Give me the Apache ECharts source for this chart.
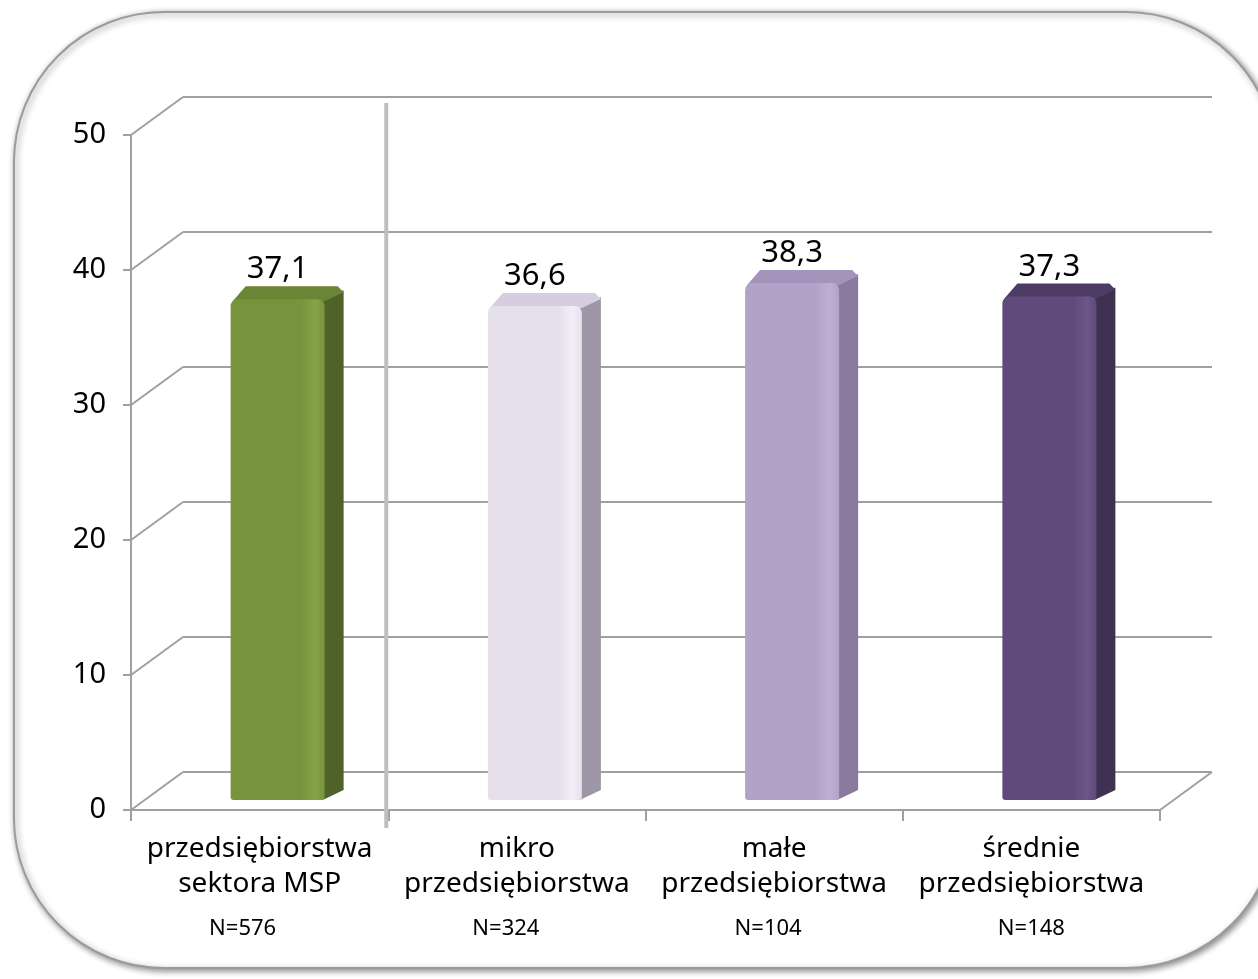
<!DOCTYPE html>
<html>
<head>
<meta charset="utf-8">
<script src="https://cdn.jsdelivr.net/npm/echarts@6/dist/echarts.min.js"></script>
<style>html,body{margin:0;padding:0;background:#fff;}#c{width:1258px;height:979px;}</style>
</head>
<body>
<div id="c"></div>
<script>
const categories = ['przedsiębiorstwa\nsektora MSP', 'mikro\nprzedsiębiorstwa', 'małe\nprzedsiębiorstwa', 'średnie\nprzedsiębiorstwa'];
const sampleSizes = ['576', '324', '104', '148'];
const barValues = [37.1, 36.6, 38.3, 37.3];
const valueLabels = ['37,1', '36,6', '38,3', '37,3'];
const yTicks = [0, 10, 20, 30, 40, 50];

const barColors = [
  {front: '#77933C', light: '#86A447', side: '#4F6228', top: '#6A8535'},
  {front: '#E6E0EC', light: '#F2EEF6', side: '#9C96A6', top: '#D6CEE0'},
  {front: '#B3A2C7', light: '#BFB0D2', side: '#8A7A9E', top: '#A493BA'},
  {front: '#604A7B', light: '#6C5688', side: '#3F3151', top: '#4E3C66'}
];
const nShift = [34, 22, 12, 0]; // right padding of the N= labels (style)
const FONT = '"Noto Sans", "DejaVu Sans", sans-serif';
const DX = 52, DY = -38;       // back wall offset
const BDX = 19, BDY = -13;     // bar depth

const nRich = {};
nShift.forEach((p, i) => {
  nRich['n' + i] = {fontFamily: FONT, fontSize: 22, lineHeight: 54, color: '#000', padding: [0, p, 0, 0]};
});

const chart = echarts.init(document.getElementById('c'), null, {renderer: 'canvas'});

const option = {
  backgroundColor: '#ffffff',
  animation: false,
  graphic: [{
    type: 'rect', z: -10, silent: true,
    shape: {x: 14, y: 12, width: 1262, height: 956, r: 150},
    style: {fill: '#ffffff', stroke: '#9b9b9b', lineWidth: 2,
      shadowBlur: 6, shadowColor: 'rgba(0,0,0,0.45)', shadowOffsetX: 2, shadowOffsetY: 2}
  }],
  grid: [
    {left: 131, right: 98, top: 135, bottom: 169},
    {left: 183, right: 46, top: 97, bottom: 207}
  ],
  xAxis: [{
    gridIndex: 0, type: 'category', data: categories,
    axisLine: {show: true, lineStyle: {color: '#a0a0a0', width: 2}},
    axisTick: {show: true, length: 11, lineStyle: {color: '#a0a0a0', width: 2}},
    axisLabel: {
      margin: 22, interval: 0, color: '#000',
      formatter: function (v, i) {
        return v.split('\n').map(l => '{a|' + l + '}').join('\n') + '\n{n' + i + '|N=' + sampleSizes[i] + '}';
      },
      rich: Object.assign({
        a: {fontFamily: FONT, fontSize: 28, lineHeight: 35, color: '#000'}
      }, nRich)
    }
  }, {
    gridIndex: 1, type: 'category', data: categories, show: false
  }],
  yAxis: [{
    gridIndex: 0, type: 'value', min: 0, max: 50, interval: 10,
    axisLine: {show: true, lineStyle: {color: '#a0a0a0', width: 2}},
    axisTick: {show: true, length: 8, lineStyle: {color: '#a0a0a0', width: 2}},
    splitLine: {show: false},
    axisLabel: {margin: 25, fontFamily: FONT, fontSize: 29, color: '#000'}
  }, {
    gridIndex: 1, type: 'value', min: 0, max: 50, interval: 10,
    axisLine: {show: false}, axisTick: {show: false}, axisLabel: {show: false},
    splitLine: {show: true, lineStyle: {color: '#a0a0a0', width: 2}}
  }],
  series: [{
    type: 'custom', xAxisIndex: 0, yAxisIndex: 0, silent: true, z: 1,
    data: yTicks.map(v => [0, v]),
    renderItem: function (params, api) {
      const cs = params.coordSys;
      const y = api.coord([0, api.value(1)])[1];
      const x = cs.x;
      const children = [{
        type: 'line', shape: {x1: x, y1: y, x2: x + DX, y2: y + DY},
        style: {stroke: '#a0a0a0', lineWidth: 2}
      }];
      if (api.value(1) === 0) {
        children.push({
          type: 'line', shape: {x1: x + cs.width, y1: y, x2: x + cs.width + DX, y2: y + DY},
          style: {stroke: '#a0a0a0', lineWidth: 2}
        });
        // separator between total and size classes
        const half = api.size([1, 0])[0] / 2;
        const sx = api.coord([0, 0])[0] + half - 2;
        const yTop = api.coord([0, 50])[1];
        children.push({
          type: 'line', shape: {x1: sx, y1: yTop - 32, x2: sx, y2: y + 18},
          style: {stroke: '#bfbfbf', lineWidth: 4}
        });
      }
      return {type: 'group', children: children};
    }
  }, {
    type: 'custom', xAxisIndex: 0, yAxisIndex: 0, silent: true, z: 5,
    data: barValues.map((v, i) => [i, v]),
    renderItem: function (params, api) {
      const i = api.value(0), v = api.value(1);
      const base = api.coord([i, 0]);
      const top = api.coord([i, v]);
      const c = barColors[i];
      const cx = base[0] + 18;
      const fx0 = cx - 47, fx1 = cx + 47;
      const yb = base[1] - 10, yt = top[1] - 10;
      return {
        type: 'group',
        children: [
          {type: 'polygon', shape: {points: [[fx1 - 2, yt], [fx1 + BDX, yt + BDY + 4], [fx1 + BDX, yb + BDY + 3], [fx1 - 2, yb]]},
            style: {fill: c.side}},
          {type: 'polygon', shape: {points: [[fx0 + 2, yt + 2], [fx0 + BDX - 4, yt + BDY], [fx1 + BDX - 6, yt + BDY], [fx1 + BDX, yt + BDY + 6], [fx1, yt + 2]]},
            style: {fill: c.top}},
          {type: 'rect', shape: {x: fx0, y: yt, width: fx1 - fx0, height: yb - yt, r: [7, 7, 3, 3]},
            style: {fill: new echarts.graphic.LinearGradient(0, 0, 1, 0, [
              {offset: 0, color: c.front}, {offset: 0.75, color: c.front},
              {offset: 0.9, color: c.light}, {offset: 1, color: c.front}])}},
          {type: 'text', style: {text: valueLabels[i], x: cx, y: yt + BDY - 1,
            textAlign: 'center', textVerticalAlign: 'bottom',
            font: '31px ' + FONT, fill: '#000'}}
        ]
      };
    }
  }]
};
chart.setOption(option);
</script>
</body>
</html>
